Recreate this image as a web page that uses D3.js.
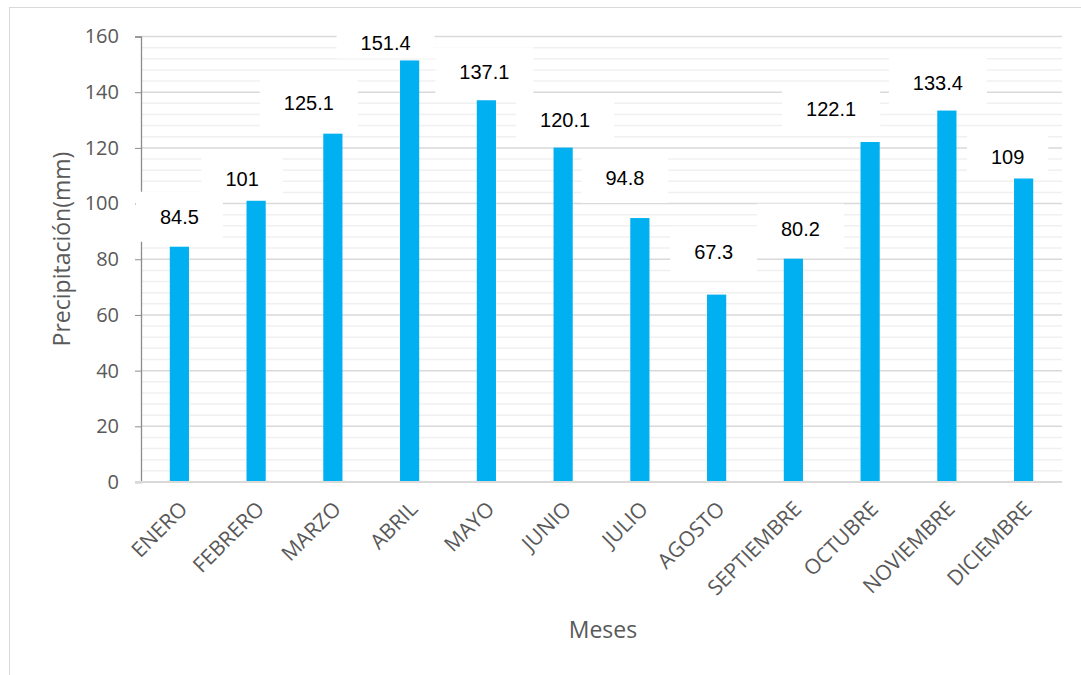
<!DOCTYPE html>
<html>
<head>
<meta charset="utf-8">
<script src="https://cdn.jsdelivr.net/npm/d3@7"></script>
<style>
  body { margin: 0; background: #fff; }
  svg { display: block; }
</style>
</head>
<body>
<svg width="1081" height="675"></svg>
<script>
//	chart data
const months = ["ENERO", "FEBRERO", "MARZO", "ABRIL", "MAYO", "JUNIO",
  "JULIO", "AGOSTO", "SEPTIEMBRE", "OCTUBRE", "NOVIEMBRE", "DICIEMBRE"];
const rain = [84.5, 101, 125.1, 151.4, 137.1, 120.1, 94.8, 67.3, 80.2, 122.1, 133.4, 109];
const yTicks = [0, 20, 40, 60, 80, 100, 120, 140, 160];

//	labels were dragged by hand in the original, so keep their nudges apart
const labelNudgeX = [0, -14, -24, -24, -2, 2, -15, -3, 7, -39, -9, -16];
const labelNudgeY = [-30, -22, -31, -17, -28, -28, -40, -43, -30, -33, -28, -22];

let svg = d3.select("svg"),
    margin = {top: 36.5, right: 19, bottom: 193, left: 141},
    width = +svg.attr("width") - margin.left - margin.right,
    height = +svg.attr("height") - margin.top - margin.bottom;

//	outer chart border
svg.append("rect")
  .attr("x", 9.5).attr("y", 7.5)
  .attr("width", 1100).attr("height", 700)
  .attr("fill", "none")
  .attr("stroke", "#d9d9d9");

let g = svg.append("g")
  .attr("transform", "translate(" + margin.left + "," + margin.top + ")");

let x = d3.scaleBand()
  .domain(months)
  .range([0, width])
  .paddingInner(0.75)
  .paddingOuter(0.375);

let y = d3.scaleLinear()
  .domain([0, 160])
  .range([height, 0]);

//	minor gridlines every 4
g.append("g").selectAll("line")
  .data(d3.range(4, 160, 4).filter(v => v % 20 !== 0))
  .enter().append("line")
  .attr("x1", 0).attr("x2", width)
  .attr("y1", d => y(d)).attr("y2", d => y(d))
  .attr("stroke", "#f0f0f0")
  .attr("stroke-width", 1.5);

//	major gridlines
g.append("g").selectAll("line")
  .data(yTicks.slice(1))
  .enter().append("line")
  .attr("x1", 0).attr("x2", width)
  .attr("y1", d => y(d)).attr("y2", d => y(d))
  .attr("stroke", "#d9d9d9")
  .attr("stroke-width", 1.5);

//	bars
g.append("g").selectAll("rect")
  .data(rain)
  .enter().append("rect")
  .attr("x", (d, i) => x(months[i]))
  .attr("width", x.bandwidth())
  .attr("y", d => y(d))
  .attr("height", d => height - y(d))
  .attr("fill", "#00b0f0");

//	y axis
let yAxis = g.append("g")
  .call(d3.axisLeft(y).tickValues(yTicks).tickSize(6).tickPadding(16));
yAxis.select(".domain").attr("stroke", "#8c8c8c").attr("stroke-width", 1.3);
yAxis.selectAll(".tick line").attr("stroke", "#8c8c8c");
yAxis.selectAll("text")
  .attr("fill", "#595959")
  .style("font-family", "'Open Sans', sans-serif")
  .style("font-size", "20px");

//	x axis
let xAxis = g.append("g")
  .attr("transform", "translate(0," + height + ")")
  .call(d3.axisBottom(x).tickSize(0));
xAxis.select(".domain").remove();
xAxis.append("line")
  .attr("x1", -6).attr("x2", width)
  .attr("stroke", "#d9d9d9")
  .attr("stroke-width", 2);
xAxis.selectAll(".tick text")
  .attr("fill", "#595959")
  .style("font-family", "'Open Sans', sans-serif")
  .style("font-size", "21px")
  .attr("text-anchor", "end")
  .attr("dy", "0.35em")
  .attr("transform", "translate(2,21) rotate(-45)");

//	data labels with white boxes
let labels = g.append("g").selectAll("g")
  .data(rain)
  .enter().append("g")
  .attr("transform", (d, i) => "translate(" +
    (x(months[i]) + x.bandwidth() / 2 + labelNudgeX[i]) + "," +
    (y(d) + labelNudgeY[i]) + ")");

labels.append("rect")
  .attr("fill", "#fff");

labels.append("text")
  .text(d => d)
  .attr("text-anchor", "middle")
  .attr("dy", "0.35em")
  .attr("fill", "#000")
  .style("font-family", "'Liberation Sans', Arial, sans-serif")
  .style("font-size", "20px");

//	box stops just above its bar
labels.each(function(d, i) {
  let grp = d3.select(this),
      w = grp.select("text").node().getComputedTextLength() + 48,
      below = Math.min(25, -labelNudgeY[i] - 2);
  grp.select("rect")
    .attr("x", -w / 2).attr("y", -25)
    .attr("width", w).attr("height", 25 + below);
});

//	axis titles
svg.append("text")
  .attr("x", 603)
  .attr("y", 638)
  .attr("text-anchor", "middle")
  .attr("fill", "#595959")
  .style("font-family", "'Open Sans', sans-serif")
  .style("font-size", "23px")
  .text("Meses");

svg.append("text")
  .attr("transform", "translate(70,249) rotate(-90)")
  .attr("text-anchor", "middle")
  .attr("fill", "#595959")
  .style("font-family", "'Open Sans', sans-serif")
  .style("font-size", "23px")
  .text("Precipitación(mm)");
</script>
</body>
</html>
